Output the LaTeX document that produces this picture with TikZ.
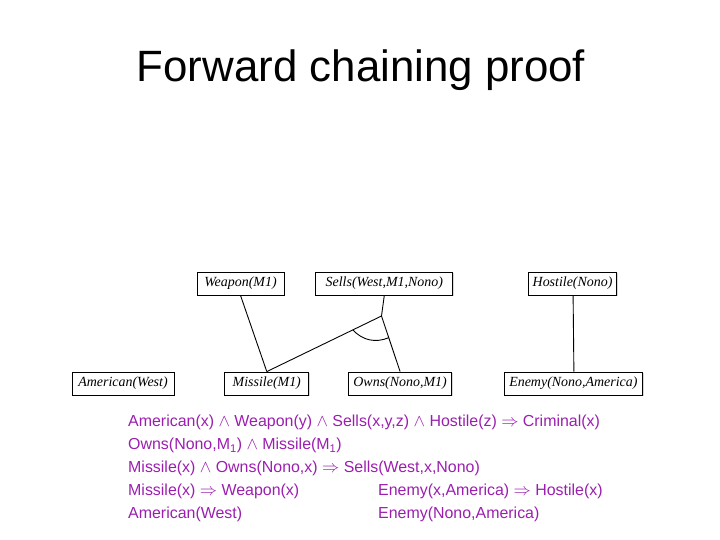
\documentclass[tikz,border=0pt]{standalone}
\usepackage{fontspec}
\setmainfont{Liberation Sans}
\newfontfamily\factfont{Liberation Serif}
\usepackage{xcolor}
\usetikzlibrary{positioning, shadows}
\definecolor{rulecolor}{RGB}{155,30,175}

\begin{document}
\begin{tikzpicture}[
    x=1bp, y=-1bp,
    fact/.style={rectangle, draw, line width=0.8pt, fill=white, minimum height=23bp, inner sep=2bp, font=\factfont\itshape\fontsize{14}{16}\selectfont, drop shadow={shadow xshift=1.2bp, shadow yshift=-1.2bp, fill=gray!60}},
    link/.style={line width=0.9pt},
    rule/.style={anchor=base west, inner sep=0pt, text=rulecolor, font=\fontsize{16}{19}\selectfont}
]
    \useasboundingbox (0,0) rectangle (720,540);

    % Title
    \node[anchor=base, font=\fontsize{44}{50}\selectfont] (title) at (361,82) {Forward chaining proof};

    % Top Row - inferred facts
    \node[fact, minimum width=87bp] (weapon) at (240.5,283.5) {Weapon(M1)};
    \node[fact, minimum width=137bp, right=31bp of weapon] (sells) {Sells(West,M1,Nono)};
    \node[fact, minimum width=88bp, right=75bp of sells] (hostile) {Hostile(Nono)};

    % Bottom Row - known facts
    \node[fact, minimum width=102bp] (american) at (123,383.5) {American(West)};
    \node[fact, minimum width=84bp, right=50bp of american] (missile) {Missile(M1)};
    \node[fact, minimum width=103bp, right=39bp of missile] (owns) {Owns(Nono,M1)};
    \node[fact, minimum width=138bp, right=52bp of owns] (enemy) {Enemy(Nono,America)};

    % Links
    \coordinate (fork) at (381.5,316);
    \draw[link] (weapon.south) -- (missile.north);
    \draw[link] (sells.south) -- (fork);
    \draw[link] (fork) -- coordinate[pos=0.25] (andstart) (missile.north);
    \draw[link] (fork) -- coordinate[pos=0.39] (andend) (owns.north);
    \draw[link] (andstart) to[bend right=35] (andend);
    \draw[link] ([xshift=0.5bp]hostile.south) -- ([xshift=0.5bp]enemy.north);

    % Rules
    \node[rule] (rule1) at (128,426.5) {American(x) $\wedge$ Weapon(y) $\wedge$ Sells(x,y,z) $\wedge$ Hostile(z) $\Rightarrow$ Criminal(x)};
    \node[rule] (rule2) at (128,449.6) {Owns(Nono,M\textsubscript{1}) $\wedge$ Missile(M\textsubscript{1})};
    \node[rule] (rule3) at (128,472.7) {Missile(x) $\wedge$ Owns(Nono,x) $\Rightarrow$ Sells(West,x,Nono)};
    \node[rule] (rule4) at (128,495.8) {Missile(x) $\Rightarrow$ Weapon(x)};
    \node[rule] (rule5) at (128,518.9) {American(West)};
    \node[rule] (rule6) at (378,495.8) {Enemy(x,America) $\Rightarrow$ Hostile(x)};
    \node[rule] (rule7) at (378,518.9) {Enemy(Nono,America)};

\end{tikzpicture}
\end{document}
